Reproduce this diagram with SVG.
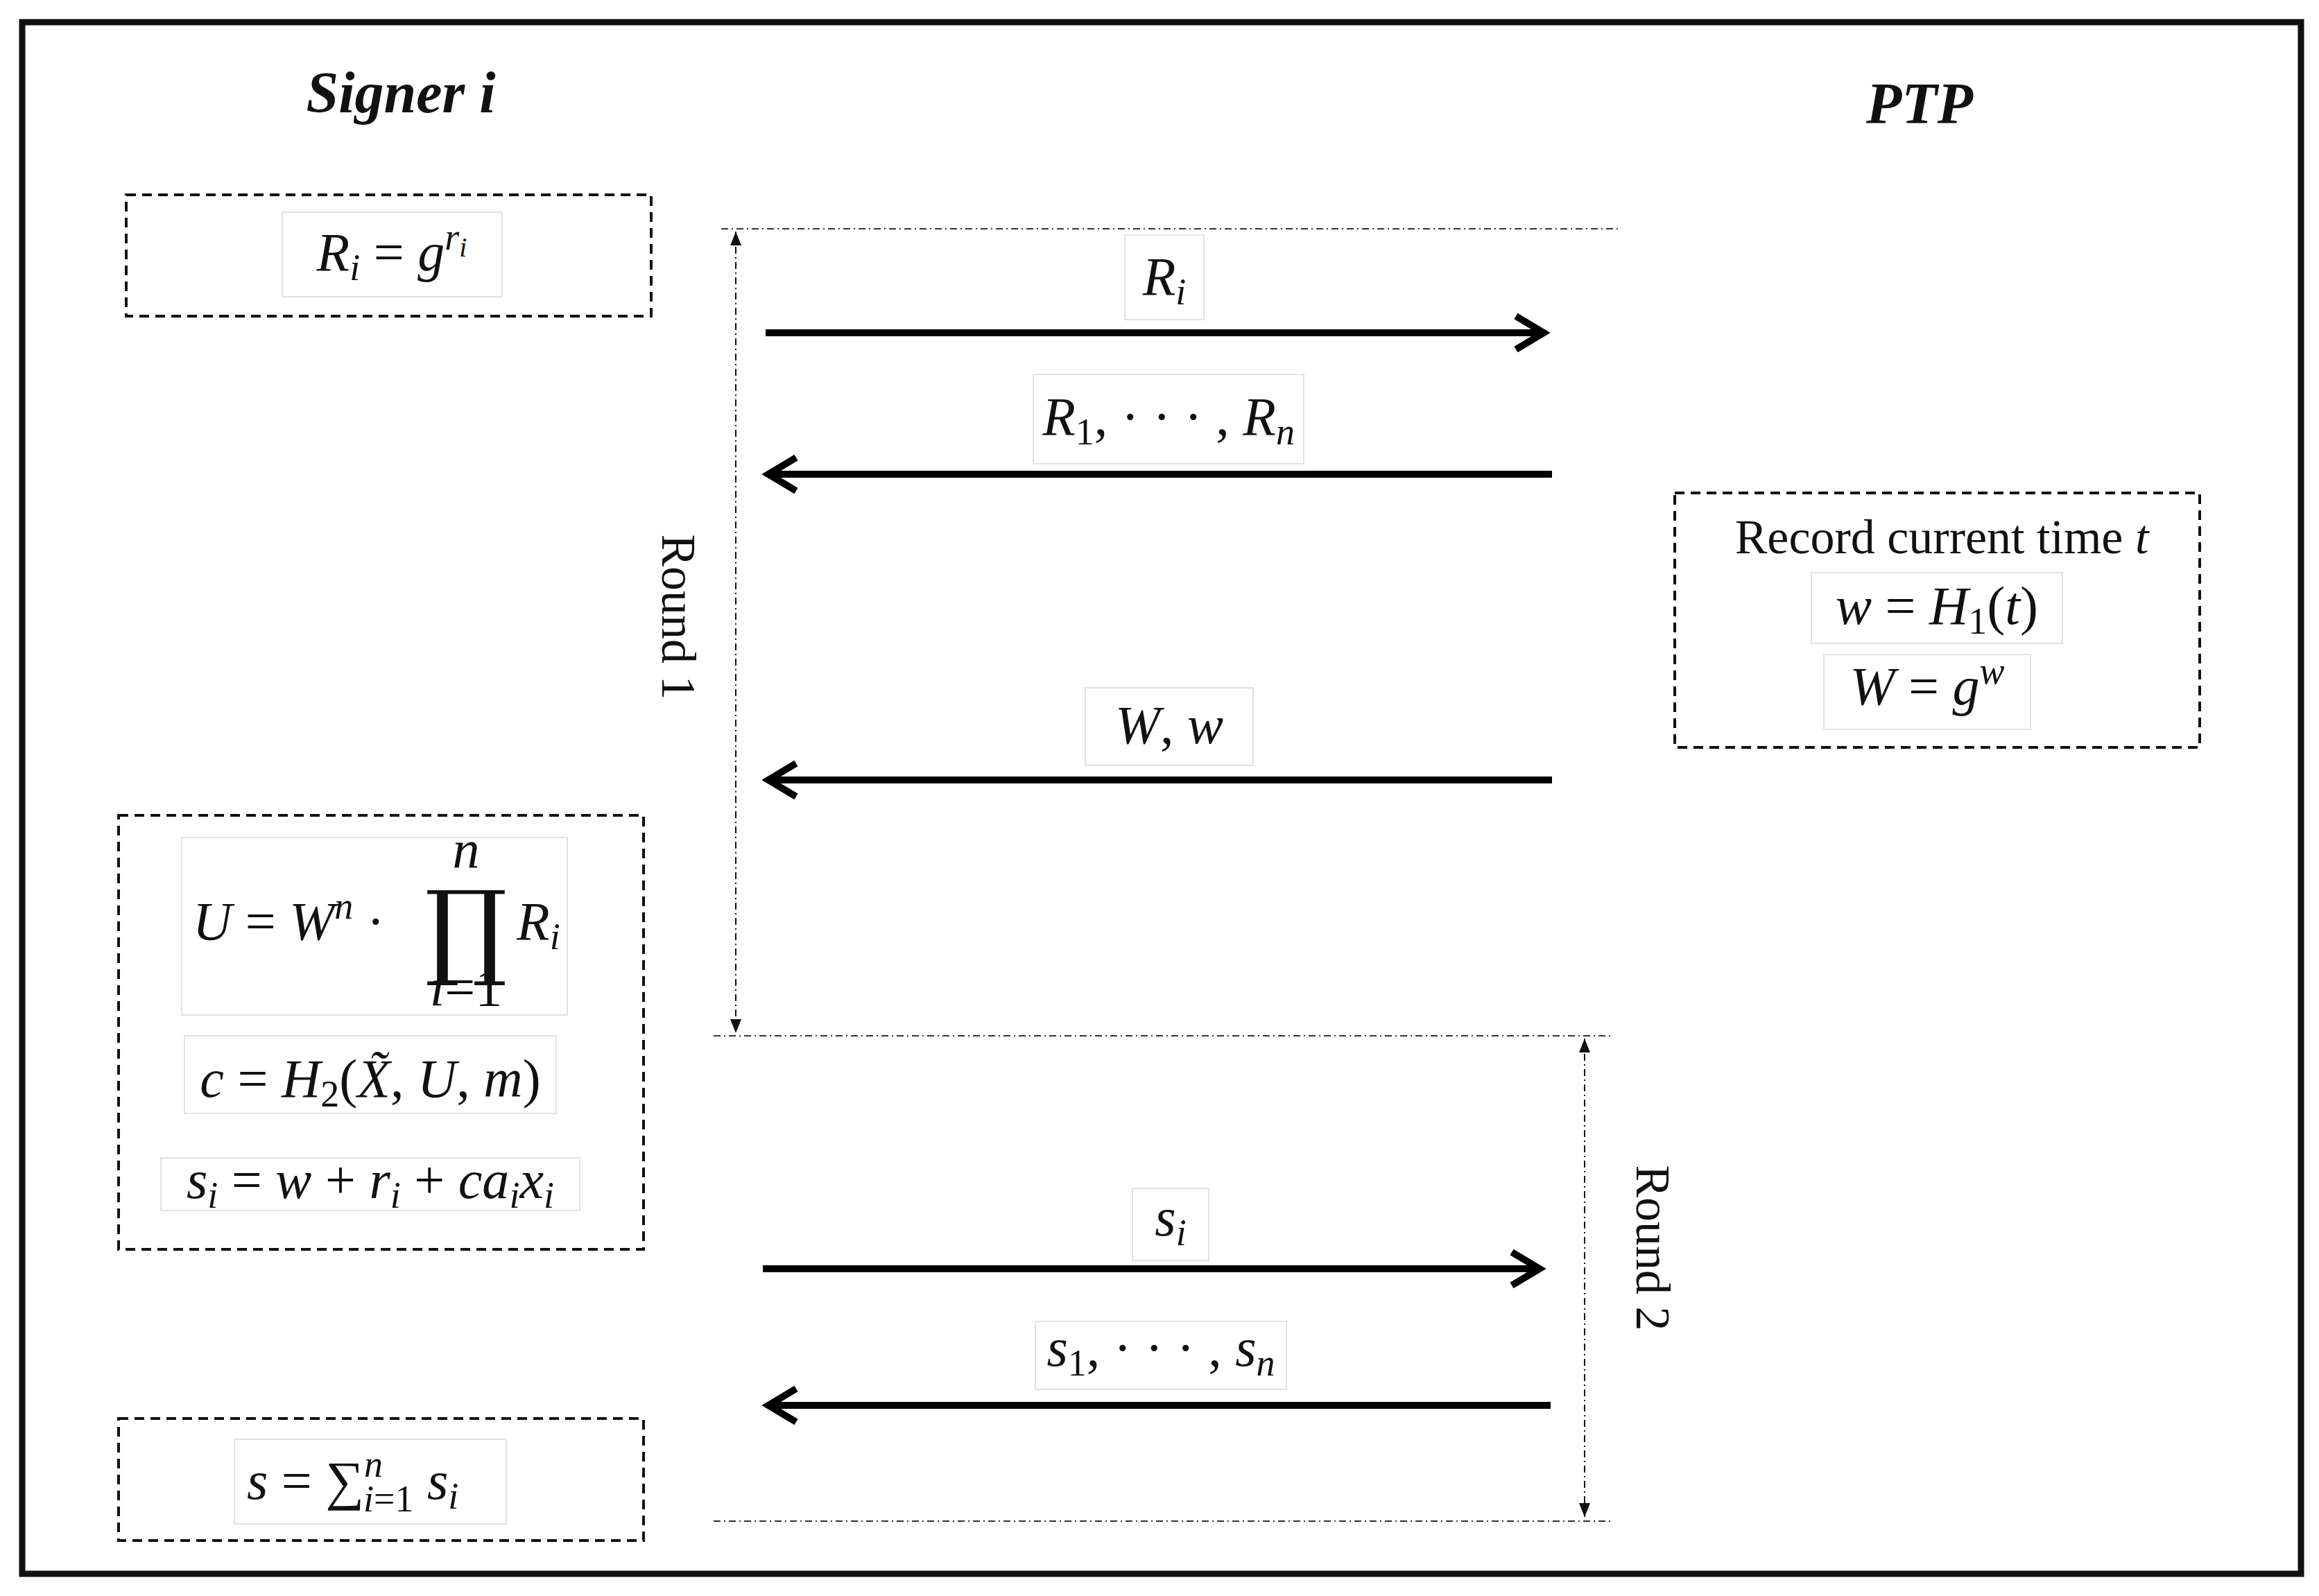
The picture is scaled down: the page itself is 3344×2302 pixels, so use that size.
<svg xmlns="http://www.w3.org/2000/svg" width="3344" height="2302" viewBox="0 0 3344 2302">
<style>
.m{font-family:"Liberation Serif",serif;font-size:78px;font-style:italic;fill:#111}
.r{font-style:normal}
.t{font-family:"Liberation Serif",serif;font-size:70px;fill:#111}
.h{font-family:"Liberation Serif",serif;font-size:84px;font-style:italic;font-weight:bold;fill:#111}
.box{fill:none;stroke:#111;stroke-width:4;stroke-dasharray:14 9}
.lb{fill:#fff;stroke:#e2e2e2;stroke-width:2}
.ar{stroke:#000;stroke-width:10;fill:none}
.dd{stroke:#333;stroke-width:2;stroke-dasharray:10 5 2 5;fill:none}
.vl{stroke:#111;stroke-width:2;stroke-dasharray:10 5 2 5;fill:none}
</style>
<defs>
<marker id="ah" markerUnits="userSpaceOnUse" markerWidth="60" markerHeight="60" refX="50" refY="30" orient="auto-start-reverse" viewBox="0 0 60 60">
<polyline points="10,6 50,30 10,54" fill="none" stroke="#000" stroke-width="10"/>
</marker>
<marker id="sa" markerUnits="userSpaceOnUse" markerWidth="24" markerHeight="24" refX="20" refY="12" orient="auto-start-reverse" viewBox="0 0 24 24">
<path d="M0,4 L20,12 L0,20 Z" fill="#111"/>
</marker>
</defs>
<rect x="32" y="32" width="3286" height="2238" fill="#fff" stroke="#111" stroke-width="9"/>
<text class="h" x="578" y="162" text-anchor="middle">Signer i</text>
<text class="h" x="2768" y="178" text-anchor="middle">PTP</text>

<g id="connectors">
<line class="dd" x1="1040" y1="330" x2="2336" y2="330"/>
<line class="dd" x1="1029" y1="1494" x2="2325" y2="1494"/>
<line class="dd" x1="1029" y1="2194" x2="2325" y2="2194"/>
<line class="vl" x1="1061" y1="334" x2="1061" y2="1490" marker-start="url(#sa)" marker-end="url(#sa)"/>
<line class="vl" x1="2285" y1="1498" x2="2285" y2="2188" marker-start="url(#sa)" marker-end="url(#sa)"/>
<text class="t" transform="translate(955 890) rotate(90)" text-anchor="middle">Round 1</text>
<text class="t" transform="translate(2360 1800) rotate(90)" text-anchor="middle">Round 2</text>
<line class="ar" x1="1104" y1="480" x2="2226" y2="480" marker-end="url(#ah)"/>
<line class="ar" x1="1108" y1="684" x2="2238" y2="684" marker-start="url(#ah)"/>
<line class="ar" x1="1108" y1="1125" x2="2238" y2="1125" marker-start="url(#ah)"/>
<line class="ar" x1="1100" y1="1830" x2="2220" y2="1830" marker-end="url(#ah)"/>
<line class="ar" x1="1108" y1="2027" x2="2236" y2="2027" marker-start="url(#ah)"/>
<rect class="lb" x="1622" y="339" width="114" height="122"/>
<text class="m" x="1679" y="425" text-anchor="middle">R<tspan font-size="54" dy="14">i</tspan></text>
<rect class="lb" x="1490" y="540" width="390" height="129"/>
<text class="m" x="1685" y="627" text-anchor="middle">R<tspan font-size="54" dy="14" class="r">1</tspan><tspan dy="-14" class="r">, · · · , </tspan>R<tspan font-size="54" dy="14">n</tspan></text>
<rect class="lb" x="1565" y="992" width="242" height="112"/>
<text class="m" x="1686" y="1072" text-anchor="middle">W<tspan class="r">, </tspan>w</text>
<rect class="lb" x="1633" y="1714" width="110" height="104"/>
<text class="m" x="1688" y="1782" text-anchor="middle">s<tspan font-size="54" dy="14">i</tspan></text>
<rect class="lb" x="1493" y="1906" width="362" height="98"/>
<text class="m" x="1674" y="1970" text-anchor="middle">s<tspan font-size="54" dy="14" class="r">1</tspan><tspan dy="-14" class="r">, · · · , </tspan>s<tspan font-size="54" dy="14">n</tspan></text>
</g>

<g id="box-ri">
<rect class="box" x="182" y="281" width="757" height="175"/>
<rect class="lb" x="407" y="306" width="317" height="122"/>
<text class="m" x="565" y="390" text-anchor="middle">R<tspan font-size="54" dy="14">i</tspan><tspan dy="-14" class="r"> = </tspan>g<tspan font-size="54" dy="-30">r</tspan><tspan font-size="40" dy="10">i</tspan></text>
</g>

<g id="box-ptp">
<rect class="box" x="2415" y="711" width="757" height="367"/>
<text class="t" x="2800" y="798" text-anchor="middle">Record current time <tspan font-style="italic">t</tspan></text>
<rect class="lb" x="2612" y="826" width="362" height="102"/>
<text class="m" x="2793" y="900" text-anchor="middle">w<tspan class="r"> = </tspan>H<tspan font-size="54" dy="14" class="r">1</tspan><tspan dy="-14" class="r">(</tspan>t<tspan class="r">)</tspan></text>
<rect class="lb" x="2630" y="944" width="298" height="108"/>
<text class="m" x="2779" y="1016" text-anchor="middle">W<tspan class="r"> = </tspan>g<tspan font-size="54" dy="-30">w</tspan></text>
</g>

<g id="box-signer">
<rect class="box" x="171" y="1176" width="757" height="626"/>
<rect class="lb" x="262" y="1208" width="556" height="256"/>
<text class="m" x="278" y="1355">U<tspan class="r"> = </tspan>W<tspan font-size="54" dy="-30">n</tspan><tspan dy="30" class="r"> · </tspan></text>
<text x="672" y="1392" font-family="DejaVu Serif, serif" font-size="150" text-anchor="middle" fill="#111">∏</text>
<text class="m" x="672" y="1252" font-size="52" text-anchor="middle">n</text>
<text class="m" x="672" y="1450" font-size="52" text-anchor="middle">i<tspan class="r">=1</tspan></text>
<text class="m" x="745" y="1355">R<tspan font-size="54" dy="14">i</tspan></text>
<rect class="lb" x="266" y="1494" width="536" height="112"/>
<text class="m" x="534" y="1582" text-anchor="middle">c<tspan class="r"> = </tspan>H<tspan font-size="54" dy="14" class="r">2</tspan><tspan dy="-14" class="r">(</tspan>X̃<tspan class="r">, </tspan>U<tspan class="r">, </tspan>m<tspan class="r">)</tspan></text>
<rect class="lb" x="232" y="1670" width="604" height="76"/>
<text class="m" x="534" y="1728" text-anchor="middle">s<tspan font-size="54" dy="14">i</tspan><tspan dy="-14" class="r"> = </tspan>w<tspan class="r"> + </tspan>r<tspan font-size="54" dy="14">i</tspan><tspan dy="-14" class="r"> + </tspan>ca<tspan font-size="54" dy="14">i</tspan><tspan dy="-14">x</tspan><tspan font-size="54" dy="14">i</tspan></text>
</g>

<g id="box-sum">
<rect class="box" x="171" y="2046" width="757" height="176"/>
<rect class="lb" x="338" y="2076" width="392" height="122"/>
<text class="m" x="356" y="2162">s<tspan class="r"> = ∑</tspan><tspan font-size="54" dy="-32">n</tspan><tspan font-size="54" dx="-28" dy="50">i</tspan><tspan font-size="54" class="r">=1</tspan><tspan dy="-18"> s</tspan><tspan font-size="54" dy="14">i</tspan></text>
</g>
</svg>
